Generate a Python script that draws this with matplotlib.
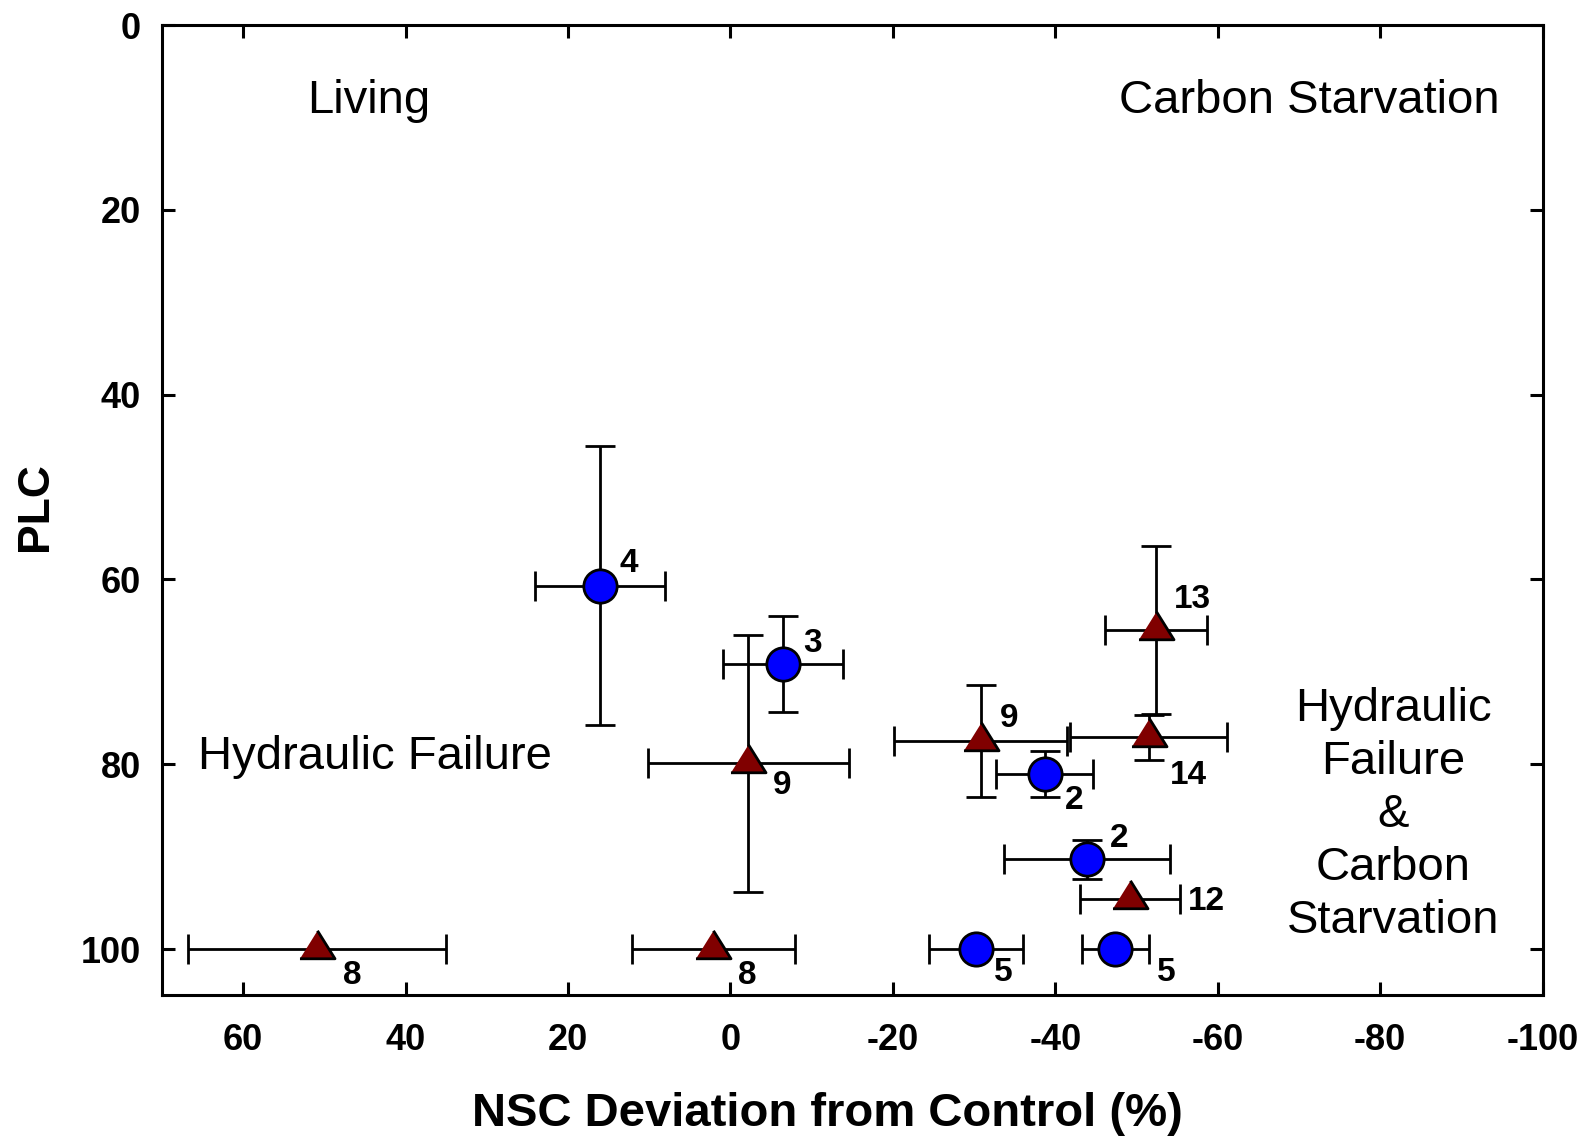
"""PLC vs NSC deviation from control."""
import matplotlib
matplotlib.use("Agg")
import matplotlib.pyplot as plt

plt.rcParams['font.family'] = ['Liberation Sans', 'DejaVu Sans']
plt.rcParams['axes.unicode_minus'] = False

# blue circles
circ_x = [16.0, -6.5, -38.7, -43.9, -30.2, -47.4]
circ_y = [60.7, 69.2, 81.1, 90.3, 100.0, 100.0]
circ_xerr = [8.0, 7.4, 6.0, 10.2, 5.8, 4.1]
circ_yerr = [15.1, 5.2, 2.5, 2.1, 0, 0]
circ_n = ['4', '3', '2', '2', '5', '5']

# dark red triangles
tri_x = [-52.4, -2.2, -30.8, -51.5, -49.2, 50.9, 2.1]
tri_y = [65.5, 79.9, 77.5, 77.1, 94.6, 100.0, 100.0]
tri_xerr = [6.25, 12.35, 10.7, 9.7, 6.2, 15.85, 10.0]
tri_yerr = [9.1, 13.9, 6.05, 2.45, 0, 0, 0]
tri_n = ['13', '9', '9', '14', '12', '8', '8']

x_ticks = [60, 40, 20, 0, -20, -40, -60, -80, -100]
y_ticks = [0, 20, 40, 60, 80, 100]

# label offsets in pixels (dx, dy up)
circ_off = [(28, 22), (29, 21), (29, -26), (32, 21), (28, -23), (51, -23)]
tri_off = [(36, 31), (34, -22), (29, 23), (40, -38), (76, -2), (35, -26),
           (34, -26)]

fig = plt.figure(figsize=(15.87, 11.40), dpi=100)
ax = fig.add_axes([0.102, 0.127, 0.870, 0.851])

tri_marker = [(-1, -0.53), (1, -0.53), (0, 1.07)]
ebkw = dict(ecolor='black', elinewidth=2.0, capsize=10.8, capthick=2.0,
            markeredgecolor='black', markeredgewidth=2.0, linestyle='none')

for i in range(len(tri_x)):
    ye = tri_yerr[i] if tri_yerr[i] > 0 else None
    ax.errorbar(tri_x[i], tri_y[i], xerr=tri_xerr[i], yerr=ye,
                marker=tri_marker, markersize=27, color='#800000',
                zorder=3, **ebkw)
    ax.annotate(tri_n[i], (tri_x[i], tri_y[i]), xytext=tri_off[i],
                textcoords='offset pixels', ha='center', va='center',
                fontsize=24, fontweight='bold', zorder=5)

for i in range(len(circ_x)):
    ye = circ_yerr[i] if circ_yerr[i] > 0 else None
    ax.errorbar(circ_x[i], circ_y[i], xerr=circ_xerr[i], yerr=ye,
                marker='o', markersize=24, color='#0000FF',
                zorder=4, **ebkw)
    ax.annotate(circ_n[i], (circ_x[i], circ_y[i]), xytext=circ_off[i],
                textcoords='offset pixels', ha='center', va='center',
                fontsize=24, fontweight='bold', zorder=5)

ax.text(44.5, 8.2, 'Living', fontsize=34, ha='center', va='center')
ax.text(-71.3, 8.2, 'Carbon Starvation', fontsize=34, ha='center',
        va='center')
ax.text(43.8, 79.2, 'Hydraulic Failure', fontsize=34, ha='center',
        va='center')
ax.text(-81.6, 85.5, 'Hydraulic\nFailure\n&\nCarbon\nStarvation',
        fontsize=34, ha='center', va='center', linespacing=1.27)

ax.set_xlim(70, -100)
ax.set_ylim(105, 0)
ax.set_xticks(x_ticks)
ax.set_yticks(y_ticks)
ax.tick_params(axis='both', direction='in', length=9.4, width=2.2,
               top=True, right=True, labelsize=26)
ax.tick_params(axis='x', pad=20)
ax.tick_params(axis='y', pad=15)
for lab in ax.get_xticklabels() + ax.get_yticklabels():
    lab.set_fontweight('bold')
for sp in ax.spines.values():
    sp.set_linewidth(2.2)

ax.set_xlabel('NSC Deviation from Control (%)', fontsize=34,
              fontweight='bold')
ax.xaxis.set_label_coords(0.482, -0.122)
ax.xaxis.label.set_va('center')
ax.set_ylabel('PLC', fontsize=32, fontweight='bold')
ax.yaxis.set_label_coords(-0.0915, 0.504)
ax.yaxis.label.set_va('center')

fig.savefig('out.png', dpi=100)
